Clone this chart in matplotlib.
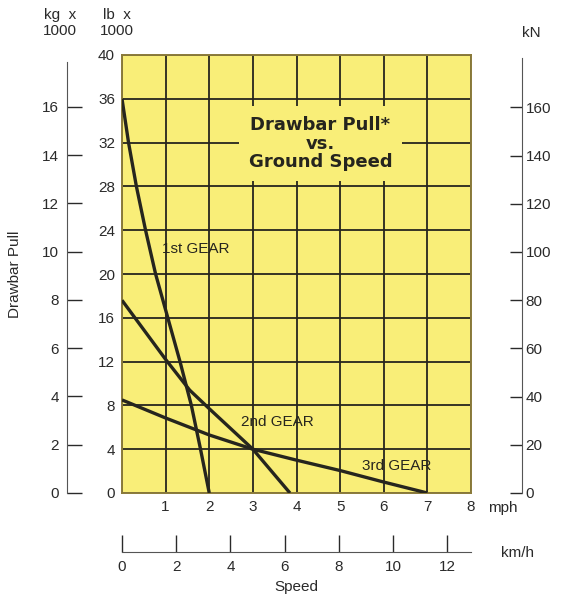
import matplotlib
matplotlib.use("Agg")
import matplotlib.pyplot as plt
import numpy as np

plt.rcParams['font.family'] = ['Liberation Sans', 'DejaVu Sans']
plt.rcParams['font.size'] = 11

# readings (speed in mph, pull in lb x 1000)
gear1_mph = [0, 0.15, 0.33, 0.54, 0.77, 1.05, 1.33, 1.59, 1.80, 2.0]
gear1_klb = [36, 32, 28, 24, 20, 16, 12, 8, 4, 0]
gear2_mph = [0, 1, 1.55, 2, 3, 3.85]
gear2_klb = [17.6, 12.2, 9.4, 7.7, 4.0, 0]
gear3_mph = [0, 1, 2, 3, 4, 5, 6, 7]
gear3_klb = [8.5, 6.85, 5.3, 4.0, 3.0, 2.05, 1.0, 0]

gear_labels = ["1st GEAR", "2nd GEAR", "3rd GEAR"]
label_pos = [(1.68, 22.3), (3.56, 6.5), (6.30, 2.5)]

mph_ticks = list(range(0, 9))
klb_ticks = list(range(0, 41, 4))
kg_ticks = list(range(0, 17, 2))
kn_ticks = list(range(0, 161, 20))
kmh_ticks = list(range(0, 13, 2))

yellow = '#f9ee78'
ink = '#26251e'
grey = '#555555'
txt_c = '#2a2a2a'

W, H = 561, 595
fig = plt.figure(figsize=(W / 100, H / 100), dpi=100)

def box(x0, y0, x1, y1):
    # pixel box (top-left origin) -> figure rect
    return [x0 / W, 1 - y1 / H, (x1 - x0) / W, (y1 - y0) / H]

ax = fig.add_axes(box(122, 55, 471, 493))
ax.set_facecolor(yellow)
ax.set_xlim(0, 8)
ax.set_ylim(0, 40)
ax.set_xticks(mph_ticks)
ax.set_xticklabels([''] + [str(t) for t in mph_ticks[1:]])
ax.set_yticks(klb_ticks)
ax.tick_params(length=0, pad=5, colors=txt_c, labelsize=11)
ax.grid(color=ink, lw=1.3)
for s in ax.spines.values():
    s.set_color('#8a7a3a')
    s.set_linewidth(1.4)

for xs, ys in [(gear1_mph, gear1_klb), (gear2_mph, gear2_klb), (gear3_mph, gear3_klb)]:
    ax.plot(xs, ys, color=ink, lw=2.4, zorder=4, solid_capstyle='butt',
            solid_joinstyle='round')

for txt, (x, y) in zip(gear_labels, label_pos):
    ax.text(x, y, txt, ha='center', va='center', fontsize=11, color=ink, zorder=5)

ax.text(4.55, 31.9, "Drawbar Pull*\nvs.\nGround Speed", ha='center', va='center',
        fontsize=13, fontweight='bold', family='DejaVu Sans', color=ink,
        linespacing=1.05, zorder=5,
        bbox=dict(boxstyle='square,pad=0.55', facecolor=yellow, edgecolor='none'))

# kg axis on far left
ax_kg = fig.add_axes(box(67, 55, 67.5, 493))
ax_kg.set_ylim(0, 40 * 0.45359)
ax_kg.set_xticks([])
ax_kg.set_yticks(kg_ticks)
for k in ['top', 'right', 'bottom']:
    ax_kg.spines[k].set_visible(False)
ax_kg.spines['left'].set_bounds(0, 17.85)
ax_kg.spines['left'].set_color(grey)
ax_kg.tick_params(axis='y', direction='in', length=11, width=1, colors=txt_c,
                  labelsize=11, pad=6)
ax_kg.patch.set_visible(False)
ax_kg.set_ylabel("Drawbar Pull", fontsize=11, color=txt_c, labelpad=14)

# kN axis on right
ax_kn = fig.add_axes(box(521, 55, 521.5, 493))
ax_kn.set_ylim(0, 181.7)
ax_kn.set_xticks([])
ax_kn.yaxis.tick_right()
ax_kn.set_yticks(kn_ticks)
for k in ['top', 'left', 'bottom']:
    ax_kn.spines[k].set_visible(False)
ax_kn.spines['right'].set_bounds(0, 180.5)
ax_kn.spines['right'].set_color(grey)
ax_kn.tick_params(axis='y', direction='in', length=9, width=1, colors=txt_c,
                  labelsize=11, pad=3)
ax_kn.patch.set_visible(False)

# km/h scale below
ax_km = fig.add_axes(box(122, 551.5, 471, 552))
ax_km.set_xlim(0, 8 * 1.609344)
ax_km.set_yticks([])
ax_km.set_xticks(kmh_ticks)
for k in ['top', 'left', 'right']:
    ax_km.spines[k].set_visible(False)
ax_km.spines['bottom'].set_color(grey)
ax_km.tick_params(axis='x', direction='in', length=12, width=1, colors=txt_c,
                  labelsize=11, pad=6)
ax_km.patch.set_visible(False)
ax_km.set_xlabel("Speed", fontsize=11, color=txt_c, labelpad=4)

fig.text(503 / W, 1 - 508 / H, "mph", ha='center', va='center', color=txt_c)
fig.text(518 / W, 1 - 553 / H, "km/h", ha='center', va='center', color=txt_c)
fig.text(60 / W, 1 - 23 / H, "kg  x\n1000", ha='center', va='center', color=txt_c,
         linespacing=1.25)
fig.text(117 / W, 1 - 23 / H, "lb  x\n1000", ha='center', va='center', color=txt_c,
         linespacing=1.25)
fig.text(531 / W, 1 - 33 / H, "kN", ha='center', va='center', color=txt_c)

fig.savefig("out.png", dpi=100)
